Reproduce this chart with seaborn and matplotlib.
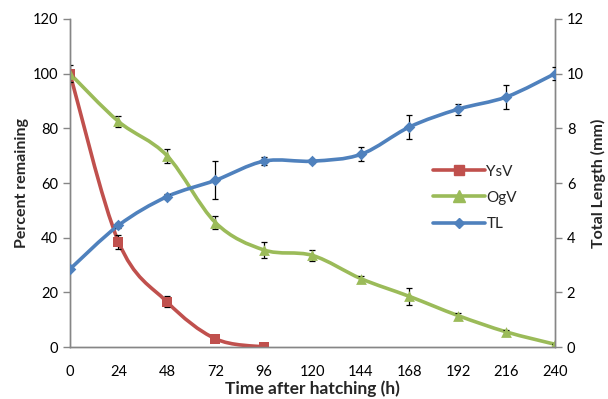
import numpy as np
import seaborn as sns
import matplotlib
matplotlib.use("Agg")
from matplotlib import pyplot as plt
from matplotlib.path import Path
from matplotlib.patches import PathPatch
from matplotlib.lines import Line2D

# data
hours = [0, 24, 48, 72, 96, 120, 144, 168, 192, 216, 240]

ysv_hours = [0, 24, 48, 72, 96]
ysv = [100, 38.5, 16.5, 3.0, 0.0]
ysv_err = [3.0, 2.5, 2.0, 0.5, 0.0]

ogv = [100, 82.5, 70.0, 45.5, 35.5, 33.5, 25.0, 18.5, 11.5, 5.5, 1.0]
ogv_err = [0.0, 2.0, 2.5, 2.5, 3.0, 2.0, 1.0, 3.0, 1.0, 0.8, 0.0]

tl = [2.85, 4.45, 5.5, 6.1, 6.8, 6.8, 7.05, 8.05, 8.7, 9.15, 10.0]
tl_err = [0.0, 0.1, 0.1, 0.7, 0.15, 0.05, 0.25, 0.45, 0.2, 0.45, 0.25]

RED = "#C0504D"
GREEN = "#9BBB59"
BLUE = "#4F81BD"
GREY = "#868686"


#Excel-style smoothed line: cubic bezier segments through the data points
def smooth_path(x, y):
	pts = np.column_stack([x, y]).astype(float)
	n = len(pts)
	verts = [pts[0]]
	codes = [Path.MOVETO]
	for i in range(n - 1):
		p0 = pts[i - 1] if i > 0 else pts[i]
		p1 = pts[i]
		p2 = pts[i + 1]
		p3 = pts[i + 2] if i + 2 < n else pts[i + 1]
		c1 = p1 + (p2 - p0) / 6.0
		c2 = p2 - (p3 - p1) / 6.0
		verts += [c1, c2, p2]
		codes += [Path.CURVE4] * 3
	return Path(verts, codes)


def draw_series(ax, x, y, err, color, marker, msize):
	ax.add_patch(PathPatch(smooth_path(x, y), facecolor="none", edgecolor=color, lw=2.6, zorder=3, capstyle="round"))
	ax.errorbar(x, y, yerr=err, fmt="none", ecolor="black", elinewidth=0.9, capsize=2.5, capthick=0.9, zorder=4)
	sns.scatterplot(x=x, y=y, ax=ax, color=color, marker=marker, s=msize, linewidth=0, zorder=5, legend=False)


sns.set_style("white")
plt.rcParams["font.family"] = ["Lato", "DejaVu Sans"]

fig = plt.figure(figsize=(6.08, 3.99), dpi=100)
ax = fig.add_axes([0.1151, 0.1303, 0.7977, 0.8221])
ax2 = ax.twinx()

draw_series(ax, ysv_hours, ysv, ysv_err, RED, "s", 55)
draw_series(ax, hours, ogv, ogv_err, GREEN, "^", 60)
draw_series(ax2, hours, tl, tl_err, BLUE, "D", 35)

ax.set_xlim(0, 240)
ax.set_ylim(0, 120)
ax2.set_ylim(0, 12)
ax.set_xticks(hours)
ax.set_xticks(np.arange(12, 240, 24), minor=True)
ax.set_yticks(np.arange(0, 121, 20))
ax2.set_yticks(np.arange(0, 13, 2))

for a in (ax, ax2):
	a.spines["top"].set_visible(False)
	for side in ("left", "right", "bottom"):
		a.spines[side].set_color(GREY)
		a.spines[side].set_linewidth(1.0)
	a.tick_params(which="both", direction="out", color=GREY, width=1.0, labelsize=10.5, labelcolor="black")
ax.tick_params(which="major", length=5)
ax.tick_params(which="minor", length=3)
ax.tick_params(axis="x", pad=8)
ax2.tick_params(length=5)

ax.set_xlabel("Time after hatching (h)", fontsize=12.5, fontweight="bold", labelpad=1)
ax.set_ylabel("Percent remaining", fontsize=11.5, fontweight="bold", labelpad=3)
ax2.set_ylabel("Total Length (mm)", fontsize=11.5, fontweight="bold", labelpad=5)

handles = [
	Line2D([], [], color=RED, lw=2.6, marker="s", markersize=7),
	Line2D([], [], color=GREEN, lw=2.6, marker="^", markersize=8),
	Line2D([], [], color=BLUE, lw=2.6, marker="D", markersize=5),
]
ax2.legend(handles, ["YsV", "OgV", "TL"], loc="center left", bbox_to_anchor=(0.72, 0.455),
		   frameon=False, fontsize=11, handlelength=3.4, handletextpad=0.1, labelspacing=0.8)

fig.savefig("out.png", dpi=100)
